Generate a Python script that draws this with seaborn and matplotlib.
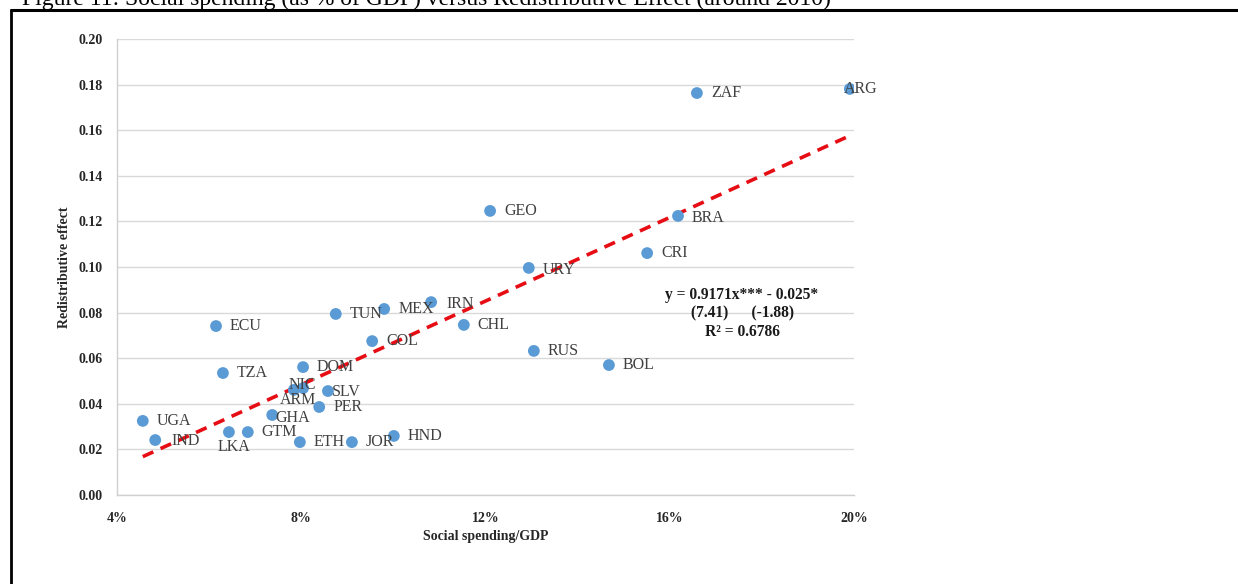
import pandas as pd
import numpy as np
import matplotlib.pyplot as plt
import seaborn as sns
from matplotlib.ticker import PercentFormatter, MultipleLocator
from matplotlib.lines import Line2D

# data (around 2010)
countries = ["UGA", "IND", "ECU", "TZA", "LKA", "GTM", "GHA", "ARM", "NIC", "DOM",
             "ETH", "SLV", "PER", "TUN", "JOR", "COL", "MEX", "HND", "IRN", "CHL",
             "GEO", "URY", "RUS", "BOL", "CRI", "BRA", "ZAF", "ARG"]
social_spending = [0.0456, 0.0483, 0.0615, 0.0630, 0.0643, 0.0684, 0.0737, 0.0784, 0.0804, 0.0804,
                   0.0797, 0.0858, 0.0839, 0.0875, 0.0910, 0.0954, 0.0980, 0.1001, 0.1082, 0.1153,
                   0.1210, 0.1294, 0.1305, 0.1468, 0.1551, 0.1618, 0.1659, 0.1991]
redistributive = [0.0325, 0.0241, 0.0741, 0.0535, 0.0276, 0.0276, 0.0351, 0.0461, 0.0469, 0.0561,
                  0.0232, 0.0456, 0.0386, 0.0794, 0.0232, 0.0675, 0.0816, 0.0259, 0.0846, 0.0746,
                  0.1246, 0.0996, 0.0632, 0.0570, 0.1061, 0.1224, 0.1763, 0.1781]
slope = 0.9171
intercept = -0.025
eq_lines = ["y = 0.9171x*** - 0.025*", "(7.41)      (-1.88)", "R² = 0.6786"]

df = pd.DataFrame({"country": countries, "spend": social_spending, "redist": redistributive})

sns.set_style("white")
plt.rcParams['font.family'] = ['Liberation Serif', 'DejaVu Serif']

fig = plt.figure(figsize=(12.38, 5.84), dpi=100)
ax = fig.add_axes([0.0945, 0.1524, 0.5953, 0.7808])

# trend line from the reported fit
xs = np.array([df["spend"].min(), df["spend"].max()])
sns.lineplot(x=xs, y=slope * xs + intercept, ax=ax, color="#E60E14", lw=2.6,
             linestyle=(0, (3.2, 2.2)), zorder=2)

sns.scatterplot(data=df, x="spend", y="redist", ax=ax, color="#5B9BD5", s=72,
                edgecolor="none", zorder=3)

# label offsets in pixels (default: right of the point)
offsets = {"IND": (16, -1), "LKA": (5, -15, "center"), "GHA": (3, -3), "ARM": (4, -10, "center"),
           "NIC": (-1, 3, "center"), "SLV": (4, -1), "ARG": (-6, 0), "URY": (14, -2),
           "BRA": (14, -2), "IRN": (15, -2)}
for c, x, y in zip(countries, social_spending, redistributive):
    o = offsets.get(c, (14, 0))
    ha = o[2] if len(o) > 2 else "left"
    ax.annotate(c, (x, y), xytext=(o[0] * 0.72, o[1] * 0.72), textcoords="offset points",
                ha=ha, va="center", fontsize=11.5, color="#404040", zorder=4)

for i, t in enumerate(eq_lines):
    ax.text(0.1757, 0.0877 - i * 0.0081, t, ha="center", va="center", fontsize=11.2,
            fontweight="bold", color="#1a1a1a")

ax.set_xlim(0.04, 0.20)
ax.set_ylim(0, 0.20)
ax.xaxis.set_major_locator(MultipleLocator(0.04))
ax.yaxis.set_major_locator(MultipleLocator(0.02))
ax.xaxis.set_major_formatter(PercentFormatter(1.0, decimals=0))
ax.yaxis.set_major_formatter(lambda v, p: f"{v:.2f}")
ax.grid(axis="y", color="#d9d9d9", lw=1)
ax.set_axisbelow(True)
for s in ["top", "right"]:
    ax.spines[s].set_visible(False)
for s in ["left", "bottom"]:
    ax.spines[s].set_color("#d0d0d0")
    ax.spines[s].set_linewidth(1)
ax.tick_params(length=0, labelsize=10, pad=10)
for lab in ax.get_xticklabels() + ax.get_yticklabels():
    lab.set_fontweight("bold")
ax.tick_params(axis="x", pad=12)
ax.set_xlabel("Social spending/GDP", fontsize=10, fontweight="bold", labelpad=4)
ax.set_ylabel("Redistributive effect", fontsize=10, fontweight="bold", labelpad=6)

# page frame and cut-off figure title
fig.add_artist(Line2D([11 / 1238, 11 / 1238], [0, 1 - 10 / 584], color="black", lw=2))
fig.add_artist(Line2D([11 / 1238, 1], [1 - 10 / 584, 1 - 10 / 584], color="black", lw=2.2))
fig.text(22 / 1238, 1 - 5 / 584, "Figure 11: Social spending (as % of GDP) versus Redistributive Effect (around 2010)",
         fontsize=17, ha="left", va="baseline", color="black")

fig.savefig("out.png", dpi=100)
